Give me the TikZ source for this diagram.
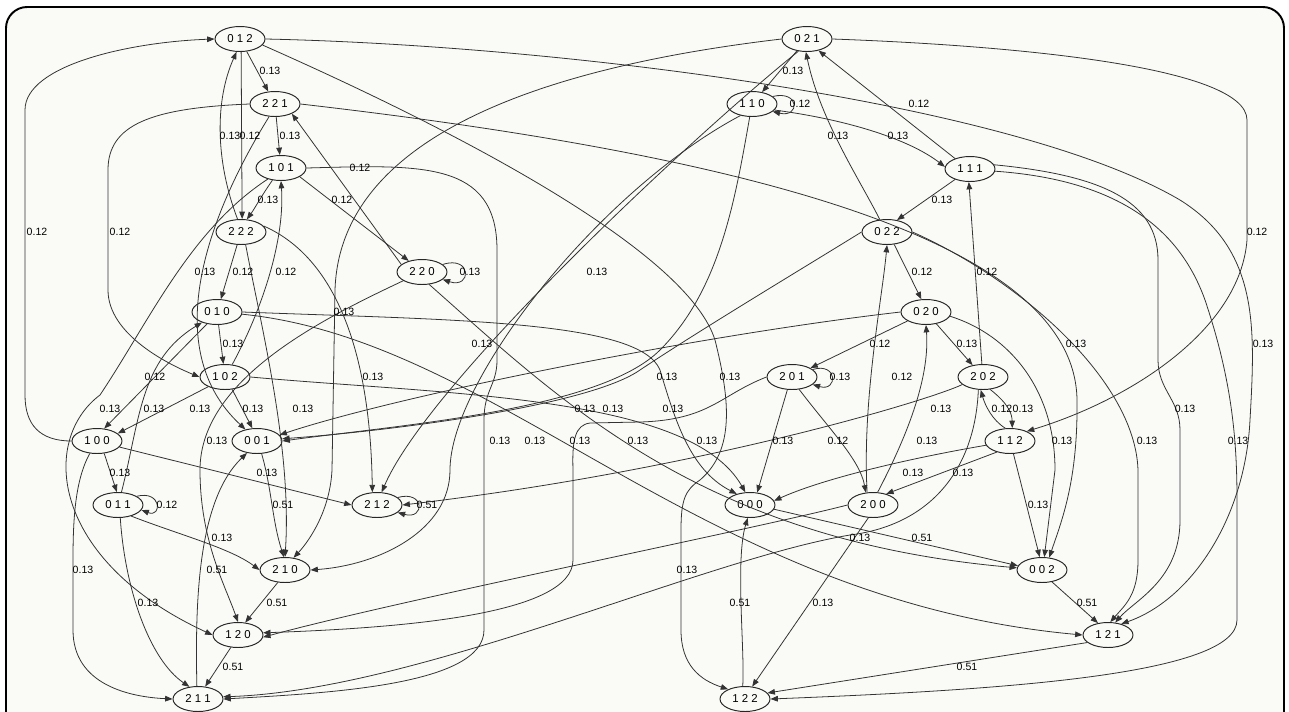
\documentclass[tikz,border=0pt]{standalone}
\usepackage{fontspec}
\setmainfont{Liberation Sans}
\usetikzlibrary{arrows.meta,shapes.geometric}

\definecolor{paper}{RGB}{250,250,247}
\newcommand\stfont{\fontsize{6.5}{7}\selectfont}
\newcommand\pbfont{\fontsize{6}{7}\selectfont}

\tikzset{
  state/.style={ellipse,draw=black!85,line width=0.55pt,fill=paper,
    minimum width=1.0cm,minimum height=0.5cm,inner sep=0pt,font=\stfont},
  trans/.style={draw=black!80,line width=0.45pt,
    -{Triangle[length=4.2pt,width=3.2pt]}},
  prob/.style={font=\pbfont,inner sep=0pt}
}

\begin{document}
\begin{tikzpicture}[x=0.02cm,y=-0.02cm]
\useasboundingbox (0,0) rectangle (1289,711);
\clip (0,0) rectangle (1289,711);

% frame
\fill[white] (0,0) rectangle (1289,711);
\draw[line width=1.1pt,fill=paper,rounded corners=12] (6,7) rectangle (1284,760);

% states
\node[state] (n012) at (240,39) {0 1 2};
\node[state] (n221) at (275,104) {2 2 1};
\node[state] (n101) at (281,168) {1 0 1};
\node[state] (n222) at (241,232) {2 2 2};
\node[state] (n220) at (422,272) {2 2 0};
\node[state] (n010) at (217,312) {0 1 0};
\node[state] (n102) at (225,377) {1 0 2};
\node[state] (n100) at (97,441) {1 0 0};
\node[state] (n001) at (257,441) {0 0 1};
\node[state] (n011) at (118,505) {0 1 1};
\node[state] (n212) at (377,505) {2 1 2};
\node[state] (n210) at (285,570) {2 1 0};
\node[state] (n120) at (238,635) {1 2 0};
\node[state] (n211) at (198,699) {2 1 1};
\node[state] (n021) at (807,39) {0 2 1};
\node[state] (n110) at (752,104) {1 1 0};
\node[state] (n111) at (970,169) {1 1 1};
\node[state] (n022) at (887,232) {0 2 2};
\node[state] (n020) at (926,312) {0 2 0};
\node[state] (n201) at (792,377) {2 0 1};
\node[state] (n202) at (983,377) {2 0 2};
\node[state] (n112) at (1010,441) {1 1 2};
\node[state] (n000) at (750,505) {0 0 0};
\node[state] (n200) at (873,505) {2 0 0};
\node[state] (n002) at (1042,570) {0 0 2};
\node[state] (n121) at (1108,635) {1 2 1};
\node[state] (n122) at (745,699) {1 2 2};

% left block
\draw[trans] (n100.west) .. controls (40,441) and (25,425) .. (25,395) -- (25,110) .. controls (25,65) and (130,42) .. (n012.west);
\draw[trans] (n012) -- (n221);
\draw[trans] (n012.-85) -- (n222.85);
\draw[trans] (n222.105) .. controls (215,160) and (215,100) .. (n012.255);
\draw[trans] (n221) -- (n101);
\draw[trans] (n221.west) .. controls (150,108) and (108,125) .. (108,170) -- (108,290) .. controls (108,335) and (170,365) .. (n102.west);
\draw[trans] (n221.245) .. controls (205,220) and (160,350) .. (n001.135);
\draw[trans] (n221.east) .. controls (700,150) and (1075,230) .. (1077,400) .. controls (1078,480) and (1062,520) .. (n002.60);
\draw[trans] (n101.235) .. controls (262,195) and (255,208) .. (n222.65);
\draw[trans] (n101.-25) -- (n220.140);
\draw[trans] (n101.220) .. controls (190,230) and (150,320) .. (100,395) .. controls (40,440) and (50,560) .. (n120.west);
\draw[trans] (n101.east) .. controls (420,165) and (497,160) .. (497,250) -- (497,360) .. controls (497,385) and (484,390) .. (484,420) -- (484,630) .. controls (484,685) and (330,693) .. (n211.east);
\draw[trans] (n220.160) -- (n221.-30);
\draw[trans] (n220.20) .. controls (472,255) and (472,289) .. (n220.-20);
\draw[trans] (n220.205) .. controls (320,320) and (200,380) .. (200,470) .. controls (200,540) and (225,585) .. (n120.north);
\draw[trans] (n220.-60) .. controls (560,400) and (700,540) .. (n002.175);
\draw[trans] (n222) -- (n010);
\draw[trans] (n222.-70) .. controls (262,330) and (292,450) .. (n210.north);
\draw[trans] (n222.15) .. controls (330,255) and (370,340) .. (n212.110);
\draw[trans] (n102.60) .. controls (262,310) and (285,240) .. (n101.-90);
\draw[trans] (n010) -- (n102);
\draw[trans] (n010.230) -- (n100.60);
\draw[trans] (n011.75) .. controls (140,420) and (140,360) .. (n010.215);
\draw[trans] (n102.210) -- (n100.20);
\draw[trans] (n102.-60) -- (n001.110);
\draw[trans] (n102.east) .. controls (450,395) and (690,395) .. (n000.110);
\draw[trans] (n100.-60) -- (n011.95);
\draw[trans] (n100.-15) -- (n212.west);
\draw[trans] (n100.240) .. controls (75,480) and (73,520) .. (73,560) -- (73,630) .. controls (73,685) and (130,697) .. (n211.west);
\draw[trans] (n011.25) .. controls (162,490) and (162,518) .. (n011.-12);
\draw[trans] (n011.-40) .. controls (180,535) and (230,548) .. (n210.west);
\draw[trans] (n011.-80) .. controls (125,590) and (150,660) .. (n211.125);
\draw[trans] (n001.-70) .. controls (272,490) and (272,520) .. (n210.95);
\draw[trans] (n210.-120) -- (n120.60);
\draw[trans] (n120.-120) -- (n211.60);
\draw[trans] (n211.95) .. controls (195,600) and (198,500) .. (n001.230);
\draw[trans] (n212.20) .. controls (425,490) and (425,520) .. (n212.-20);

% right block
\draw[trans] (n012.east) .. controls (550,45) and (1010,100) .. (1180,200) .. controls (1260,250) and (1255,330) .. (1250,420) .. controls (1245,520) and (1190,600) .. (n121.40);
\draw[trans] (n012.-15) .. controls (500,150) and (690,260) .. (715,340) .. controls (730,400) and (735,450) .. (700,480) .. controls (685,490) and (681,500) .. (681,530) -- (681,630) .. controls (681,665) and (700,680) .. (n122.150);
\draw[trans] (n021) -- (n110);
\draw[trans] (n021.east) .. controls (1000,45) and (1247,65) .. (1247,120) -- (1247,240) .. controls (1240,330) and (1130,400) .. (n112.30);
\draw[trans] (n021.west) .. controls (560,65) and (340,130) .. (335,290) -- (332,470) .. controls (330,510) and (310,540) .. (n210.55);
\draw[trans] (n021.235) .. controls (700,130) and (430,380) .. (n212.70);
\draw[trans] (n110.20) .. controls (800,90) and (800,118) .. (n110.-20);
\draw[trans] (n110.-15) .. controls (850,120) and (910,140) .. (n111.175);
\draw[trans] (n110.225) .. controls (600,190) and (450,380) .. (450,470) .. controls (450,530) and (380,565) .. (n210.east);
\draw[trans] (n110.-100) .. controls (735,200) and (720,290) .. (660,350) .. controls (600,410) and (400,425) .. (n001.east);
\draw[trans] (n111.145) -- (n021.-45);
\draw[trans] (n111.215) -- (n022.50);
\draw[trans] (n111.10) .. controls (1100,175) and (1158,200) .. (1158,260) -- (1158,360) .. controls (1158,390) and (1180,400) .. (1180,430) -- (1180,520) .. controls (1180,580) and (1135,600) .. (n121.60);
\draw[trans] (n111.-5) .. controls (1120,180) and (1180,230) .. (1205,300) .. controls (1232,380) and (1237,440) .. (1237,500) -- (1237,620) .. controls (1237,675) and (1000,690) .. (n122.east);
\draw[trans] (n022.120) .. controls (860,180) and (820,120) .. (n021.-95);
\draw[trans] (n022.-60) -- (n020.110);
\draw[trans] (n022.east) .. controls (1020,280) and (1135,380) .. (1138,470) -- (1138,560) .. controls (1138,595) and (1125,605) .. (n121.80);
\draw[trans] (n022.west) .. controls (800,270) and (700,330) .. (640,370) .. controls (590,405) and (400,430) .. (n001.5);
\draw[trans] (n020) -- (n201);
\draw[trans] (n020) -- (n202);
\draw[trans] (n020.-10) .. controls (1010,335) and (1055,390) .. (1055,470) -- (n002.80);
\draw[trans] (n020.west) .. controls (700,335) and (400,395) .. (n001.15);
\draw[trans] (n202.95) -- (n111.-95);
\draw[trans] (n202.-60) .. controls (1010,405) and (1012,415) .. (n112.80);
\draw[trans] (n112.110) .. controls (992,420) and (985,405) .. (n202.-100);
\draw[trans] (n201.20) .. controls (838,362) and (838,392) .. (n201.-20);
\draw[trans] (n201.-110) -- (n000.60);
\draw[trans] (n201.-60) .. controls (830,430) and (860,460) .. (n200.120);
\draw[trans] (n201.west) .. controls (720,395) and (710,420) .. (640,422) -- (590,423) .. controls (575,425) and (572,440) .. (573,470) -- (573,560) .. controls (573,615) and (400,628) .. (n120.5);
\draw[trans] (n200.115) .. controls (862,400) and (882,300) .. (n022.-90);
\draw[trans] (n200.70) .. controls (905,440) and (930,380) .. (n020.-90);
\draw[trans] (n112.190) .. controls (900,460) and (820,480) .. (n000.10);
\draw[trans] (n112.220) -- (n200.40);
\draw[trans] (n112.-75) -- (n002.100);
\draw[trans] (n202.200) .. controls (930,400) and (700,470) .. (n212.east);
\draw[trans] (n202.-110) .. controls (975,470) and (930,525) .. (850,535) .. controls (700,560) and (420,690) .. (n211.5);
\draw[trans] (n000.-10) -- (n002.170);
\draw[trans] (n002.-50) -- (n121.130);
\draw[trans] (n121.200) -- (n122.15);
\draw[trans] (n122.100) .. controls (745,650) and (735,560) .. (n000.-100);
\draw[trans] (n200.-110) -- (n122.60);
\draw[trans] (n200.west) .. controls (750,530) and (400,600) .. (n120.-5);
\draw[trans] (n010.east) .. controls (450,320) and (640,320) .. (660,370) .. controls (675,420) and (690,470) .. (n000.140);
\draw[trans] (n010.-5) .. controls (500,340) and (700,600) .. (n121.west);

% probabilities
\foreach \px/\py/\pv in {
  270/71/0.13, 793/71/0.13, 800/104/0.12, 919/104/0.12,
  230/136/0.13, 250/136/0.12, 290/136/0.13, 838/136/0.13, 898/136/0.13,
  360/168/0.12, 268/200/0.13, 342/200/0.12, 942/200/0.13,
  37/232/0.12, 120/232/0.12, 1257/232/0.12,
  205/272/0.13, 243/272/0.12, 286/272/0.12, 470/272/0.13, 597/272/0.13,
  922/272/0.12, 987/272/0.12,
  344/312/0.13, 233/344/0.13, 482/344/0.13, 880/344/0.12, 967/344/0.13,
  1076/344/0.13, 1263/344/0.13,
  155/377/0.12, 373/377/0.13, 667/377/0.13, 730/377/0.13, 840/377/0.13,
  902/377/0.12,
  110/409/0.13, 154/409/0.13, 200/409/0.13, 253/409/0.13, 303/409/0.13,
  585/409/0.13, 613/409/0.13, 673/409/0.13, 941/409/0.13, 1002/409/0.12,
  1023/409/0.13, 1185/409/0.13,
  217/441/0.13, 500/441/0.13, 535/441/0.13, 580/441/0.13, 638/441/0.13,
  707/441/0.13, 783/441/0.13, 838/441/0.12, 927/441/0.13, 1062/441/0.13,
  1147/441/0.13, 1238/441/0.13,
  120/473/0.13, 267/473/0.13, 913/473/0.13, 963/473/0.13,
  167/505/0.12, 283/505/0.51, 427/505/0.51, 1038/505/0.13,
  222/538/0.13, 860/538/0.13, 922/538/0.51,
  83/570/0.13, 217/570/0.51, 687/570/0.13,
  148/603/0.13, 277/603/0.51, 740/603/0.51, 823/603/0.13, 1087/603/0.51,
  233/667/0.51, 967/667/0.51}
  \node[prob] at (\px,\py) {\pv};

\end{tikzpicture}
\end{document}
